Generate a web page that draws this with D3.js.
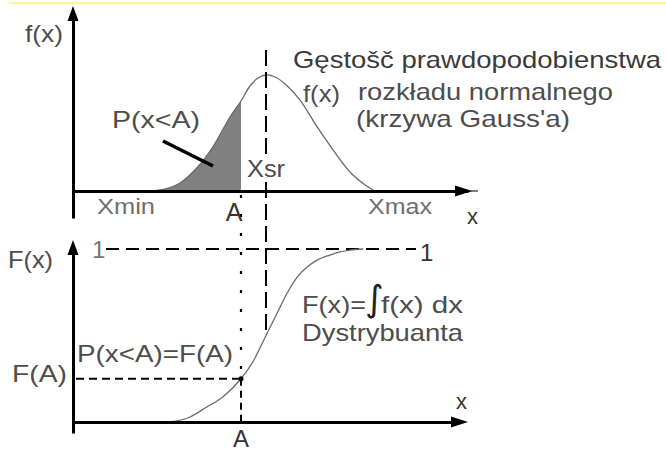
<!DOCTYPE html>
<html>
<head>
<meta charset="utf-8">
<script src="https://cdn.jsdelivr.net/npm/d3@7"></script>
<style>
  body { margin: 0; background: #fff; }
  svg { display: block; }
</style>
</head>
<body>
<svg id="chart" width="666" height="453"></svg>
<script>
// Probability density f(x) of the normal distribution (x in units from the mean, peak = 1)
const densityX = [-2.9, -2.53, -2.15, -1.73, -1.33, -0.9, -0.625, -0.4, -0.2, 0, 0.23, 0.48, 0.85, 1.28, 1.68, 2.1, 2.48, 2.68];
const densityY = [0, 0.017, 0.069, 0.198, 0.379, 0.638, 0.776, 0.905, 0.974, 1, 0.983, 0.922, 0.784, 0.552, 0.353, 0.164, 0.052, 0.009];

// Cumulative distribution F(x)
const cdfX = [-2.4, -1.9, -1.48, -1.08, -0.625, -0.33, 0, 0.28, 0.53, 0.78, 1.03, 1.28, 1.6, 1.85, 2.1, 2.43];
const cdfY = [0, 0.029, 0.087, 0.145, 0.25, 0.347, 0.5, 0.63, 0.746, 0.838, 0.896, 0.936, 0.965, 0.983, 0.994, 1];

// Marked points
const pointA = -0.625;   // A
const meanX = 0;         // Xsr
const cdfAtA = 0.25;     // F(A)
const cdfMax = 1;        // upper limit of F(x)

const svg = d3.select("#chart");
const font = "'Liberation Sans', Arial, sans-serif";
const ink = "#000";
const textGray = "#4d4d4d";

// Scales: shared x, one y per panel
const x = d3.scaleLinear().domain([-5, 5]).range([66, 466]);
const yTop = d3.scaleLinear().domain([0, 1]).range([191, 75]);
const yBot = d3.scaleLinear().domain([0, 1]).range([422, 249]);

const axisLeftX = 73;

// Thin yellow rule across the top
svg.append("line")
  .attr("x1", 9).attr("x2", 666).attr("y1", 3).attr("y2", 3)
  .attr("stroke", "#fff59a").attr("stroke-width", 2.5);

const density = densityX.map((v, i) => ({ x: v, y: densityY[i] }));
const cdf = cdfX.map((v, i) => ({ x: v, y: cdfY[i] }));

// ---------- Upper panel: density ----------
// Shaded area P(x<A)
const shaded = density.filter(d => d.x <= pointA + 1e-9);
svg.append("path")
  .datum(shaded)
  .attr("d", d3.area()
    .x(d => x(d.x)).y0(yTop(0)).y1(d => yTop(d.y))
    .curve(d3.curveCatmullRom))
  .attr("fill", "#808080");

// Density curve
svg.append("path")
  .datum(density)
  .attr("d", d3.line().x(d => x(d.x)).y(d => yTop(d.y)).curve(d3.curveCatmullRom))
  .attr("fill", "none").attr("stroke", "#6a6a6a").attr("stroke-width", 1.3);

// Axes drawn as arrows
function arrowAxisH(y, x0, x1, tip) {
  const g = svg.append("g").attr("transform", `translate(0,${y})`);
  g.call(d3.axisBottom(d3.scaleLinear().domain([0, 1]).range([x0, x1])).tickValues([]).tickSizeOuter(0));
  g.select(".domain").attr("stroke", ink).attr("stroke-width", 3);
  svg.append("path")
    .attr("d", `M${tip},${y} L${tip - 17},${y - 5.5} L${tip - 17},${y + 5.5} Z`)
    .attr("fill", ink);
}
function arrowAxisV(xPos, y0, y1, tip) {
  const g = svg.append("g").attr("transform", `translate(${xPos},0)`);
  g.call(d3.axisLeft(d3.scaleLinear().domain([0, 1]).range([y0, y1])).tickValues([]).tickSizeOuter(0));
  g.select(".domain").attr("stroke", ink).attr("stroke-width", 3);
  svg.append("path")
    .attr("d", `M${xPos},${tip} L${xPos - 5.5},${tip + 15} L${xPos + 5.5},${tip + 15} Z`)
    .attr("fill", ink);
}

arrowAxisH(yTop(0), axisLeftX, 468, 472);
svg.append("line").attr("x1", 468).attr("x2", 478).attr("y1", yTop(0)).attr("y2", yTop(0))
  .attr("stroke", ink).attr("stroke-width", 1);
arrowAxisV(axisLeftX, 218, 12, 6);

// Mean line Xsr (runs into the lower panel down to F(x))
svg.append("line")
  .attr("x1", x(meanX)).attr("x2", x(meanX))
  .attr("y1", 50).attr("y2", yBot(cdfY[cdfX.indexOf(meanX)]))
  .attr("stroke", ink).attr("stroke-width", 2)
  .attr("stroke-dasharray", "16,6");

// Leader from the P(x<A) label to the shaded area
svg.append("line")
  .attr("x1", 163).attr("y1", 141).attr("x2", 213).attr("y2", 166)
  .attr("stroke", ink).attr("stroke-width", 3.5);

// ---------- Lower panel: distribution function ----------
// Level F = 1
svg.append("line")
  .attr("x1", 106).attr("x2", 416)
  .attr("y1", yBot(cdfMax)).attr("y2", yBot(cdfMax))
  .attr("stroke", ink).attr("stroke-width", 2)
  .attr("stroke-dasharray", "13,7");

// Level F(A)
svg.append("line")
  .attr("x1", axisLeftX + 3).attr("x2", x(pointA))
  .attr("y1", yBot(cdfAtA)).attr("y2", yBot(cdfAtA))
  .attr("stroke", ink).attr("stroke-width", 1.8)
  .attr("stroke-dasharray", "8,5");

// Vertical through A: dotted above F(A), dashed below
svg.append("line")
  .attr("x1", x(pointA)).attr("x2", x(pointA))
  .attr("y1", yTop(0) + 4).attr("y2", yBot(cdfAtA))
  .attr("stroke", ink).attr("stroke-width", 2.2)
  .attr("stroke-dasharray", "3,16");
svg.append("line")
  .attr("x1", x(pointA)).attr("x2", x(pointA))
  .attr("y1", yBot(cdfAtA)).attr("y2", yBot(0))
  .attr("stroke", ink).attr("stroke-width", 2)
  .attr("stroke-dasharray", "7,5");

// CDF curve
svg.append("path")
  .datum(cdf)
  .attr("d", d3.line().x(d => x(d.x)).y(d => yBot(d.y)).curve(d3.curveMonotoneX))
  .attr("fill", "none").attr("stroke", "#6a6a6a").attr("stroke-width", 1.3);

// Point (A, F(A))
svg.append("circle")
  .attr("cx", x(pointA)).attr("cy", yBot(cdfAtA)).attr("r", 2.5)
  .attr("fill", ink);

arrowAxisH(yBot(0), axisLeftX, 452, 468);
arrowAxisV(axisLeftX, 433, 250, 240);

// ---------- Labels ----------
function label(txt, x0, y0, opts = {}) {
  const t = svg.append("text")
    .attr("x", x0).attr("y", y0)
    .attr("font-family", opts.family || font)
    .attr("font-size", opts.size || 24)
    .attr("fill", opts.color || textGray)
    .attr("text-anchor", opts.anchor || "start")
    .text(txt);
  if (opts.width) t.attr("textLength", opts.width).attr("lengthAdjust", "spacingAndGlyphs");
  return t;
}

// The Xsr label sits on a white patch that interrupts the mean line
svg.append("rect")
  .attr("x", 245).attr("y", 156).attr("width", 42).attr("height", 24)
  .attr("fill", "#fff");

label("f(x)", 25, 42, { width: 38 });
label("P(x<A)", 112, 128, { width: 88 });
label("Xsr", 247, 177, { width: 38 });
label("Xmin", 97, 214, { width: 58, size: 22, color: "#6f6f6f" });
label("A", x(pointA) - 7, 221, { anchor: "middle", size: 25, color: "#333" });
label("Xmax", 368, 214, { width: 64, size: 22, color: "#6f6f6f" });
label("x", 467, 224, { size: 22, color: "#333" });

label("Gęstošč prawdopodobienstwa", 293, 68, { width: 368, color: "#3a3a3a" });
label("f(x)", 303, 102, { width: 37 });
label("rozkładu normalnego", 358, 100, { width: 255 });
label("(krzywa Gauss'a)", 356, 127, { width: 214 });

label("F(x)", 8, 268, { width: 45 });
label("1", 92, 258, { color: "#777" });
label("1", 420, 261, { color: "#333" });
label("F(x)=", 302, 313, { width: 64 });
label("∫", 365, 311, { size: 36, family: "'DejaVu Sans', sans-serif", color: "#222" });
label("f(x) dx", 381, 313, { width: 82 });
label("Dystrybuanta", 302, 341, { width: 161 });
label("P(x<A)=F(A)", 77, 362, { width: 156 });
label("F(A)", 12, 382, { width: 55 });
label("A", x(pointA), 447, { anchor: "middle", size: 24, color: "#333" });
label("x", 456, 409, { size: 22, color: "#333" });
</script>
</body>
</html>
